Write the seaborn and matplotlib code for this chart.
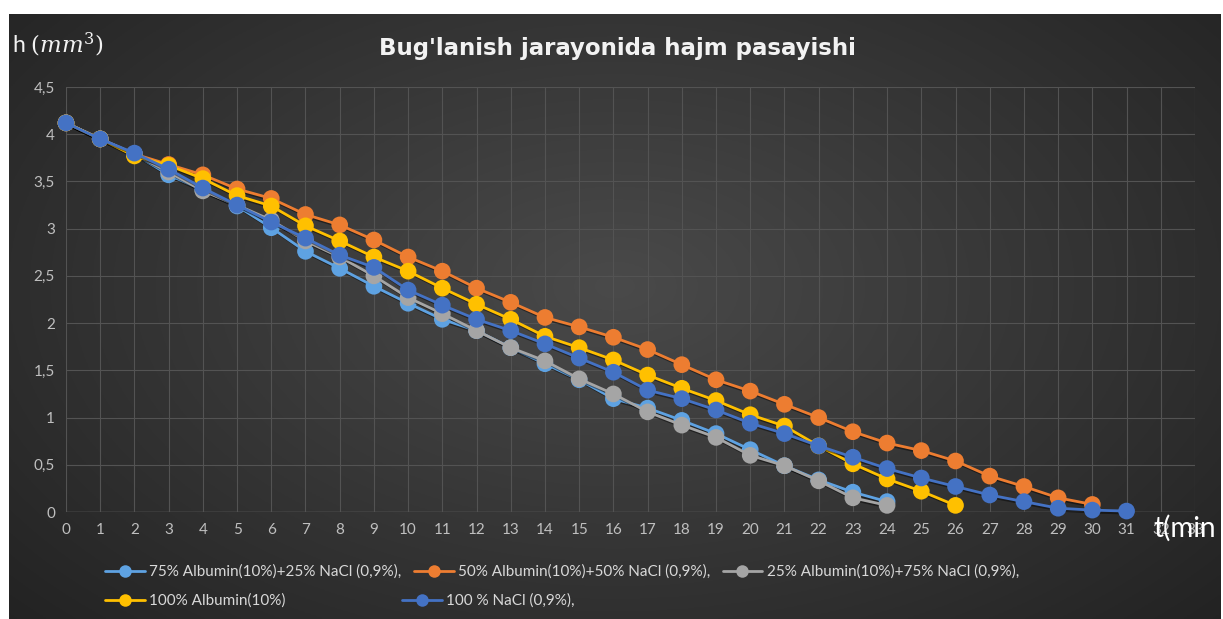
import numpy as np
import pandas as pd
import matplotlib
matplotlib.use("Agg")
import matplotlib.pyplot as plt
import matplotlib.patheffects as pe
import seaborn as sns

# ---------------- data ----------------
series_names = [
    "75% Albumin(10%)+25% NaCl (0,9%),",
    "50% Albumin(10%)+50% NaCl (0,9%),",
    "25% Albumin(10%)+75% NaCl (0,9%),",
    "100% Albumin(10%)",
    "100 % NaCl (0,9%),",
]
h_75alb = [4.12, 3.95, 3.79, 3.57, 3.41, 3.24, 3.01, 2.76, 2.58, 2.39, 2.21, 2.04,
           1.92, 1.74, 1.57, 1.40, 1.20, 1.10, 0.97, 0.83, 0.66, 0.49, 0.34, 0.21, 0.11]
h_50alb = [4.12, 3.95, 3.79, 3.68, 3.57, 3.42, 3.32, 3.15, 3.04, 2.88, 2.70, 2.55,
           2.37, 2.22, 2.06, 1.96, 1.85, 1.72, 1.56, 1.40, 1.28, 1.14, 1.00, 0.85,
           0.73, 0.65, 0.54, 0.38, 0.27, 0.15, 0.08]
h_25alb = [4.12, 3.95, 3.79, 3.60, 3.40, 3.25, 3.09, 2.87, 2.70, 2.50, 2.27, 2.10,
           1.92, 1.74, 1.60, 1.41, 1.25, 1.06, 0.92, 0.79, 0.60, 0.49, 0.33, 0.15, 0.07]
h_100alb = [4.12, 3.95, 3.77, 3.67, 3.53, 3.35, 3.24, 3.03, 2.87, 2.70, 2.55, 2.37,
            2.20, 2.04, 1.86, 1.74, 1.61, 1.45, 1.31, 1.18, 1.03, 0.91, 0.70, 0.51,
            0.35, 0.22, 0.07]
h_100nacl = [4.12, 3.95, 3.80, 3.63, 3.43, 3.25, 3.07, 2.90, 2.72, 2.59, 2.35, 2.19,
             2.04, 1.92, 1.78, 1.63, 1.48, 1.29, 1.20, 1.08, 0.94, 0.83, 0.70, 0.58,
             0.46, 0.36, 0.27, 0.18, 0.11, 0.04, 0.02, 0.01]
all_series = [h_75alb, h_50alb, h_25alb, h_100alb, h_100nacl]
colors = ["#5EA2E2", "#ED7D31", "#A5A5A5", "#FFC000", "#4472C4"]
y_ticks = [0, 0.5, 1, 1.5, 2, 2.5, 3, 3.5, 4, 4.5]
y_tick_labels = ["0", "0,5", "1", "1,5", "2", "2,5", "3", "3,5", "4", "4,5"]
x_ticks = list(range(0, 34))

rows = []
for name, vals in zip(series_names, all_series):
    for t, v in enumerate(vals):
        rows.append({"t": t, "h": v, "series": name})
df = pd.DataFrame(rows)

# ---------------- figure ----------------
sns.set_theme(style="dark")
plt.rcParams["font.family"] = ["Lato", "DejaVu Sans"]

W, H = 1223, 619
fig = plt.figure(figsize=(W / 100, H / 100), dpi=100, facecolor="white")

# dark gradient background panel
bg = fig.add_axes([9 / W, 0, 1 - 11 / W, (H - 14) / H])
yy, xx = np.mgrid[0:1:300j, 0:1:600j]
r = np.sqrt(((xx - 0.5) / 0.75) ** 2 + ((yy - 0.55) / 0.9) ** 2)
shade = np.clip(0.29 - 0.17 * r, 0.11, 0.3)
img = np.dstack([shade, shade, shade])
bg.imshow(img, aspect="auto", extent=[0, 1, 0, 1], origin="lower")
bg.set_axis_off()

ax = fig.add_axes([66 / W, (H - 512) / H, (1195 - 66) / W, (512 - 87) / H])
ax.set_facecolor("none")

sns.lineplot(data=df, x="t", y="h", hue="series", hue_order=series_names,
             palette=colors, marker="o", markersize=12, linewidth=2,
             markeredgewidth=0, ax=ax, legend=False, sort=False)

for ln in ax.get_lines():
    ln.set_path_effects([pe.SimpleLineShadow(offset=(1.5, -1.5), alpha=0.45,
                                             shadow_color="black"),
                         pe.Normal()])
    ln.set_clip_on(False)

ax.set_xlim(0, 33)
ax.set_ylim(0, 4.5)
ax.set_xticks(x_ticks)
ax.set_xticklabels([str(t) for t in x_ticks])
ax.set_yticks(y_ticks)
ax.set_yticklabels(y_tick_labels)
ax.tick_params(axis="both", colors="#BFBFBF", labelsize=11, length=0, pad=8)
ax.grid(True, color="#535353", linewidth=0.8)
for s in ax.spines.values():
    s.set_visible(False)
ax.axhline(0, color="#6E6E6E", linewidth=1, zorder=0.5)
ax.set_xlabel("")
ax.set_ylabel("")

# title and axis labels
fig.text(617 / W, 1 - 48 / H, "Bug'lanish jarayonida hajm pasayishi",
         ha="center", va="center", fontsize=16.5, fontweight="bold",
         color="#F2F2F2", family=["DejaVu Sans"])
plt.rcParams["mathtext.fontset"] = "dejavuserif"
fig.text(12 / W, 1 - 45 / H, r"h $(mm^3)$", ha="left", va="center",
         fontsize=16.5, color="#F2F2F2")
fig.text(1153 / W, 1 - 528 / H, "t(min", ha="left", va="center",
         fontsize=20, color="#FFFFFF")

# legends (two rows like the reference)
handles = ax.get_lines()[:5]
leg_kw = dict(frameon=False, fontsize=11, labelcolor="#D9D9D9", handlelength=2.6,
              handletextpad=0.3, borderaxespad=0, borderpad=0)
leg1 = fig.legend(handles[:3], series_names[:3], ncol=3, columnspacing=0.8,
                  loc="center left", bbox_to_anchor=(105 / W, 1 - 572 / H),
                  **leg_kw)
leg2 = fig.legend(handles[3:], series_names[3:], ncol=2, columnspacing=7.6,
                  loc="center left", bbox_to_anchor=(105 / W, 1 - 601 / H),
                  **leg_kw)
for leg in (leg1, leg2):
    for h in leg.legend_handles:
        h.set_markersize(9)
        h.set_path_effects([])

fig.savefig("out.png", dpi=100, facecolor="white")
